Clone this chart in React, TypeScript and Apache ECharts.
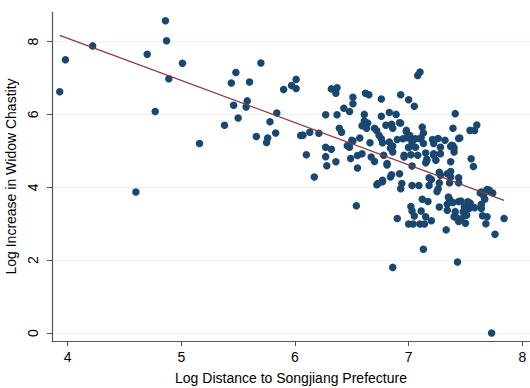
import React, { useEffect, useRef } from "react";
import * as echarts from "echarts";

// Log distance to Songjiang prefecture (x) and log increase in widow chastity (y)
const logDistance = [
  3.93, 3.98, 4.22, 4.60, 4.70, 4.77, 4.86, 4.87, 4.89, 5.01, 5.16, 5.38, 5.44, 5.46, 5.48, 5.50,
  5.58, 5.57, 5.60, 5.66, 5.70, 5.75, 5.76, 5.78, 5.83, 5.84, 5.90, 5.97, 6.01, 6.01, 6.05, 6.07,
  6.13, 6.10, 6.17, 6.21, 6.27, 6.27, 6.32, 6.27, 6.28, 6.36, 6.32, 6.37, 6.36, 6.37, 6.39, 6.41,
  6.43, 6.48, 6.51, 6.51, 6.46, 6.48, 6.50, 6.49, 6.55, 6.55, 6.59, 6.51, 6.57, 6.61, 6.62, 6.65,
  6.61, 6.59, 6.64, 6.63, 6.66, 6.67, 6.70, 6.70, 6.72, 6.76, 6.76, 6.74, 6.76, 6.77, 6.78, 6.72,
  6.77, 6.81, 6.80, 6.83, 6.85, 6.86, 6.89, 6.92, 6.93, 7.00, 7.05, 7.08, 7.10, 6.83, 6.86, 6.84,
  6.90, 6.81, 6.84, 6.85, 6.92, 6.96, 6.98, 6.99, 7.00, 7.01, 7.06, 7.03, 7.02, 6.96, 7.03, 7.12,
  7.13, 7.11, 7.13, 7.08, 7.15, 7.15, 7.16, 7.21, 7.22, 7.22, 7.24, 7.26, 7.28, 7.28, 7.27, 7.32,
  7.37, 7.37, 7.41, 7.39, 7.39, 7.40, 7.44, 7.44, 7.37, 7.34, 7.54, 7.58, 7.60, 7.55, 7.57, 7.69,
  7.71, 7.74, 7.63, 6.73, 6.77, 6.94, 6.93, 7.03, 7.09, 7.18, 7.18, 7.26, 7.27, 7.28, 7.20, 7.25,
  7.36, 7.37, 7.44, 6.54, 6.90, 7.02, 7.03, 7.05, 7.00, 7.04, 7.11, 7.15, 7.10, 7.14, 7.12, 7.17,
  7.27, 7.34, 7.34, 7.36, 7.39, 7.44, 7.40, 7.41, 7.44, 7.46, 7.49, 7.50, 7.53, 7.54, 7.58, 7.64,
  7.64, 7.65, 7.69, 7.68, 7.66, 7.67, 7.84, 7.76, 7.33, 7.13, 6.86, 7.43, 7.73, 7.20, 7.48, 7.52,
  7.35, 7.46, 7.49, 7.64, 7.45, 7.38, 7.40, 6.98, 6.95, 7.06, 7.03, 7.10, 7.00, 6.93, 7.16, 7.22,
  6.86, 7.42, 7.51, 7.54,
];
const logChastity = [
  6.62, 7.50, 7.88, 3.87, 7.65, 6.08, 8.57, 8.02, 6.98, 7.40, 5.20, 5.70, 6.86, 6.25, 7.15, 5.90,
  6.37, 6.20, 6.89, 5.39, 7.41, 5.23, 5.35, 5.80, 5.49, 6.04, 6.68, 6.79, 6.96, 6.71, 5.42, 5.43,
  5.51, 4.89, 4.28, 5.48, 5.99, 5.10, 5.04, 4.84, 4.59, 4.70, 6.70, 6.73, 6.58, 5.99, 5.62, 5.51,
  6.17, 6.08, 6.29, 6.47, 5.14, 5.10, 5.29, 4.79, 4.53, 4.87, 4.92, 5.27, 5.35, 6.00, 6.58, 6.54,
  5.82, 5.69, 5.76, 5.62, 5.22, 4.83, 4.71, 5.62, 5.55, 6.42, 5.95, 5.42, 5.33, 5.22, 4.88, 4.07,
  4.15, 4.65, 5.70, 6.05, 5.73, 5.62, 6.00, 5.77, 6.54, 6.40, 6.22, 7.07, 7.16, 5.24, 5.13, 5.07,
  5.31, 4.61, 4.28, 4.34, 4.37, 4.88, 5.56, 5.36, 5.10, 5.42, 5.10, 5.29, 4.89, 4.83, 4.58, 5.65,
  5.49, 5.36, 5.20, 4.88, 4.94, 4.67, 4.77, 5.31, 5.20, 4.92, 4.74, 5.34, 5.10, 4.92, 4.41, 5.29,
  5.12, 4.70, 6.02, 5.62, 5.14, 4.97, 5.34, 4.26, 4.43, 4.37, 5.56, 5.56, 5.71, 4.78, 4.57, 3.94,
  3.92, 3.84, 3.84, 4.10, 4.19, 4.10, 3.96, 4.05, 4.05, 4.05, 4.26, 3.96, 4.12, 4.33, 4.21, 3.88,
  4.12, 4.28, 4.12, 3.49, 3.14, 3.47, 3.35, 3.21, 2.99, 2.99, 3.35, 3.19, 2.99, 2.99, 3.67, 3.61,
  3.46, 3.53, 3.37, 3.67, 3.58, 3.61, 3.19, 3.33, 3.06, 3.12, 3.23, 3.01, 3.41, 3.55, 3.44, 3.42,
  3.53, 3.22, 3.19, 3.00, 3.76, 3.67, 3.14, 2.71, 2.83, 2.30, 1.80, 1.95, 0.00, 3.08, 3.33, 3.60,
  3.73, 3.62, 3.46, 3.87, 5.35, 5.15, 5.08, 5.52, 5.33, 5.33, 5.24, 5.33, 5.09, 5.76, 4.73, 4.88,
  4.97, 3.17, 3.23, 3.57,
];

// Fitted regression line endpoints
const fitX = [3.93, 7.84];
const fitY = [8.17, 3.64];

const xTicks = [4, 5, 6, 7, 8];
const yTicks = [0, 2, 4, 6, 8];

export default function App() {
  const ref = useRef<HTMLDivElement>(null);
  useEffect(() => {
    document.body.style.margin = "0";
    const chart = echarts.init(ref.current!, null, { renderer: "svg" });
    const points = logDistance.map((x, i) => [x, logChastity[i]]);
    const fit = fitX.map((x, i) => [x, fitY[i]]);
    const font = "'Liberation Sans', Arial, Helvetica, sans-serif";
    chart.setOption({
      animation: false,
      backgroundColor: "#ffffff",
      grid: { left: 52, right: 0, top: 12, bottom: 47, outerBoundsMode: "none", containLabel: false },
      xAxis: {
        type: "value",
        min: 3.862,
        max: 8.068,
        name: "Log Distance to Songjiang Prefecture",
        nameLocation: "middle",
        nameGap: 30,
        nameTextStyle: { fontFamily: font, fontSize: 14, color: "#000" },
        axisLine: { show: true, onZero: false, lineStyle: { color: "#555", width: 1.2 } },
        axisTick: { show: true, length: 5, customValues: xTicks, lineStyle: { color: "#555" } },
        axisLabel: {
          customValues: xTicks,
          fontFamily: font,
          fontSize: 14,
          color: "#000",
          margin: 9,
        },
        splitLine: { show: false },
      },
      yAxis: {
        type: "value",
        min: -0.22,
        max: 8.81,
        name: "Log Increase in Widow Chastity",
        nameLocation: "middle",
        nameGap: 33,
        nameTextStyle: { fontFamily: font, fontSize: 14, color: "#000" },
        axisLine: { show: true, onZero: false, lineStyle: { color: "#555", width: 1.2 } },
        axisTick: { show: true, length: 5, customValues: yTicks, lineStyle: { color: "#555" } },
        axisLabel: {
          customValues: yTicks,
          rotate: 90,
          fontFamily: font,
          fontSize: 14,
          color: "#000",
          margin: 12,
        },
        splitLine: { show: true, lineStyle: { color: "#eaf2f3", width: 1 } },
      },
      series: [
        {
          type: "scatter",
          data: points,
          symbol: "circle",
          symbolSize: 7.5,
          itemStyle: { color: "#1a476f", opacity: 1 },
          z: 2,
        },
        {
          type: "line",
          data: fit,
          symbol: "none",
          lineStyle: { color: "#90353b", width: 1.2 },
          z: 3,
        },
      ],
    });
    return () => chart.dispose();
  }, []);
  return <div ref={ref} style={{ width: 530, height: 388 }} />;
}
